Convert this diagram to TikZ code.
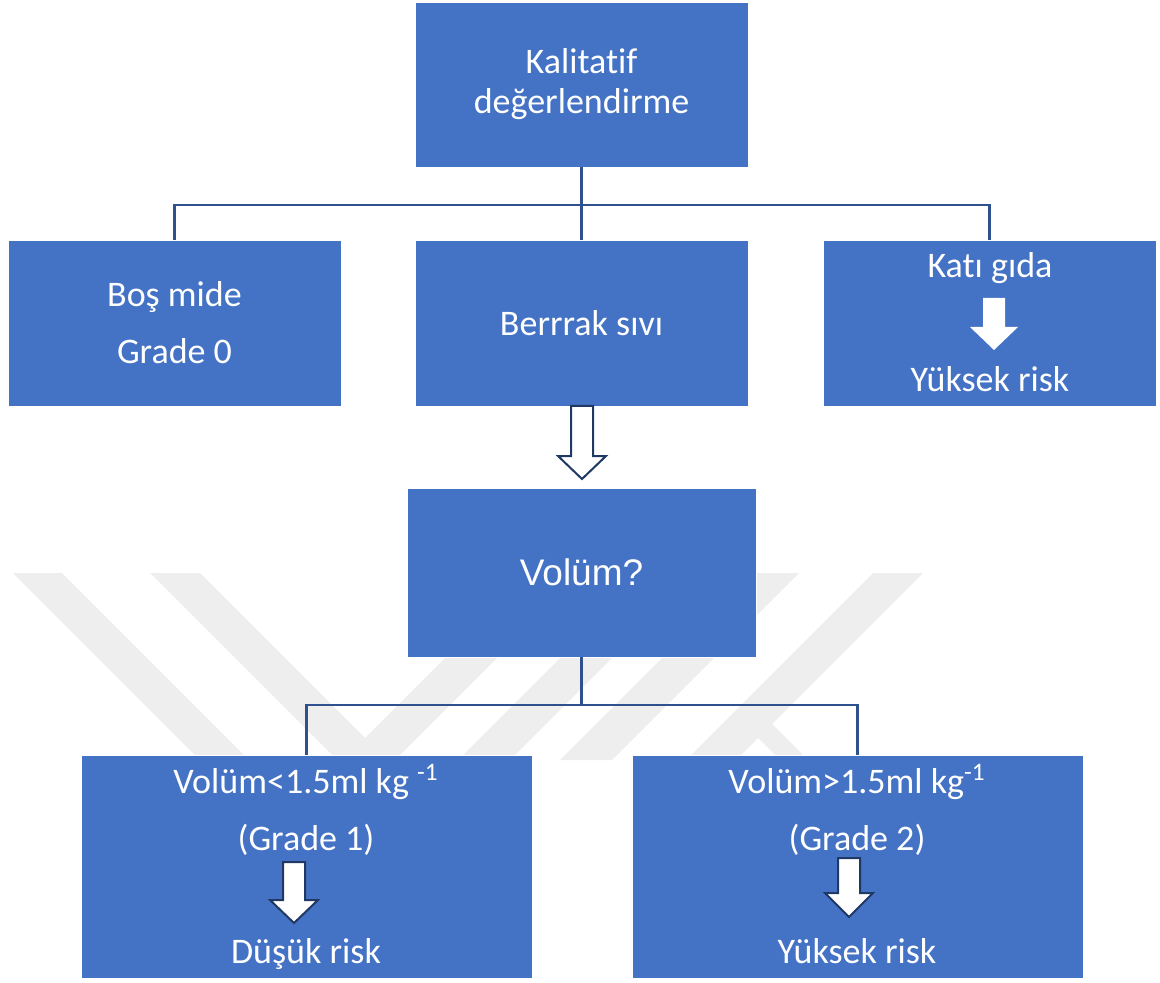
\documentclass[tikz,border=0pt]{standalone}
\usepackage{fontspec}
\setmainfont{Carlito}[Ligatures=NoCommon]
\newfontfamily\arialfont{Liberation Sans}

\definecolor{boxblue}{HTML}{4472C4}
\definecolor{linkblue}{HTML}{2F528F}
\definecolor{arrownavy}{HTML}{203864}
\definecolor{markgray}{HTML}{EEEEEE}

% block arrow pointing down: [style]{top centre}{shaft length}{head length}
\newcommand{\blockdown}[4][]{%
  \draw[#1] (#2) ++(-11,0) -- ++(22,0) -- ++(0,#3) -- ++(13,0) -- ++(-24,#4)
    -- ++(-24,-#4) -- ++(13,0) -- cycle;}

\begin{document}
\begin{tikzpicture}[x=0.5pt, y=-0.5pt, thick,
  main/.style = {draw=white, line width=0.4pt, fill=boxblue, text=white, align=center,
    font=\fontsize{18}{20}\selectfont, inner sep=0pt},
  word/.style = {text=white, font=\fontsize{18}{20}\selectfont, anchor=base, inner sep=0pt},
  link/.style = {draw=linkblue, line width=1.1pt},
  wmark/.style = {fill=markgray},
  hollow/.style = {draw=arrownavy, fill=white, line width=1pt, line join=miter},
  solid/.style = {fill=white, draw=none}]
		\useasboundingbox (0,0) rectangle (1160,983);

		% watermark
		\fill[wmark] (13,573) -- (62,573) -- (249,760) -- (200,760) -- cycle;
		\fill[wmark] (150,573) -- (200,573) -- (387,760) -- (337,760) -- cycle;
		\fill[wmark] (343,760) -- (395,760) -- (582,573) -- (530,573) -- cycle;
		\fill[wmark] (458,760) -- (510,760) -- (697,573) -- (645,573) -- cycle;
		\fill[wmark] (560,760) -- (612,760) -- (799,573) -- (747,573) -- cycle;
		\fill[wmark] (686,760) -- (736,760) -- (923,573) -- (873,573) -- cycle;
		\fill[wmark] (742,722) -- (770,722) -- (808,760) -- (780,760) -- cycle;

		\node[main, minimum width=166.5pt, minimum height=82.5pt] (1) at (581.5,84.5) {Kalitatif\\değerlendirme};
		\node[main, minimum width=166.5pt, minimum height=83pt] (2) at (174.5,323) {Boş mide\\[8.5pt]Grade 0};
		\node[main, minimum width=166.5pt, minimum height=83pt] (3) at (581.5,323) {Berrrak sıvı};
		\node[main, minimum width=166.5pt, minimum height=83pt] (4) at (989.5,323) {};
		\node[main, minimum width=174.5pt, minimum height=84.5pt, font=\arialfont\fontsize{18.5}{22}\selectfont] (5) at (581.5,572.5) {Volüm?};
		\node[main, minimum width=225.5pt, minimum height=111.5pt] (6) at (306.5,866.5) {};
		\node[main, minimum width=225.5pt, minimum height=111.5pt] (7) at (857.5,866.5) {};

		\node[word] (4a) at (990,278) {Katı gıda};
		\node[word] (4b) at (990,392) {Yüksek risk};
		\node[word] (6a) at (306,793) {Volüm<1.5ml kg \textsuperscript{-1}};
		\node[word] (6b) at (306,850) {(Grade 1)};
		\node[word] (6c) at (306,963) {Düşük risk};
		\node[word] (7a) at (857,793) {Volüm>1.5ml kg\textsuperscript{-1}};
		\node[word] (7b) at (857,850) {(Grade 2)};
		\node[word] (7c) at (857,963) {Yüksek risk};

		\coordinate (s1) at (581.5,205);
		\coordinate (s2) at (581.5,705);
		\draw[link] (1) -- (3);
		\draw[link] (2) |- (s1) -| (4);
		\draw[link] (5) -- (s2);
		\draw[link] (6) |- (s2) -| (7);

		\coordinate (a3) at (582,406);
		\coordinate (a4) at (994,298);
		\coordinate (a6) at (294,862);
		\coordinate (a7) at (849,858);
		\blockdown[hollow]{a3}{50}{23}
		\blockdown[solid]{a4}{29}{23}
		\blockdown[hollow]{a6}{38}{23}
		\blockdown[hollow]{a7}{35}{24}
	\end{tikzpicture}
\end{document}
